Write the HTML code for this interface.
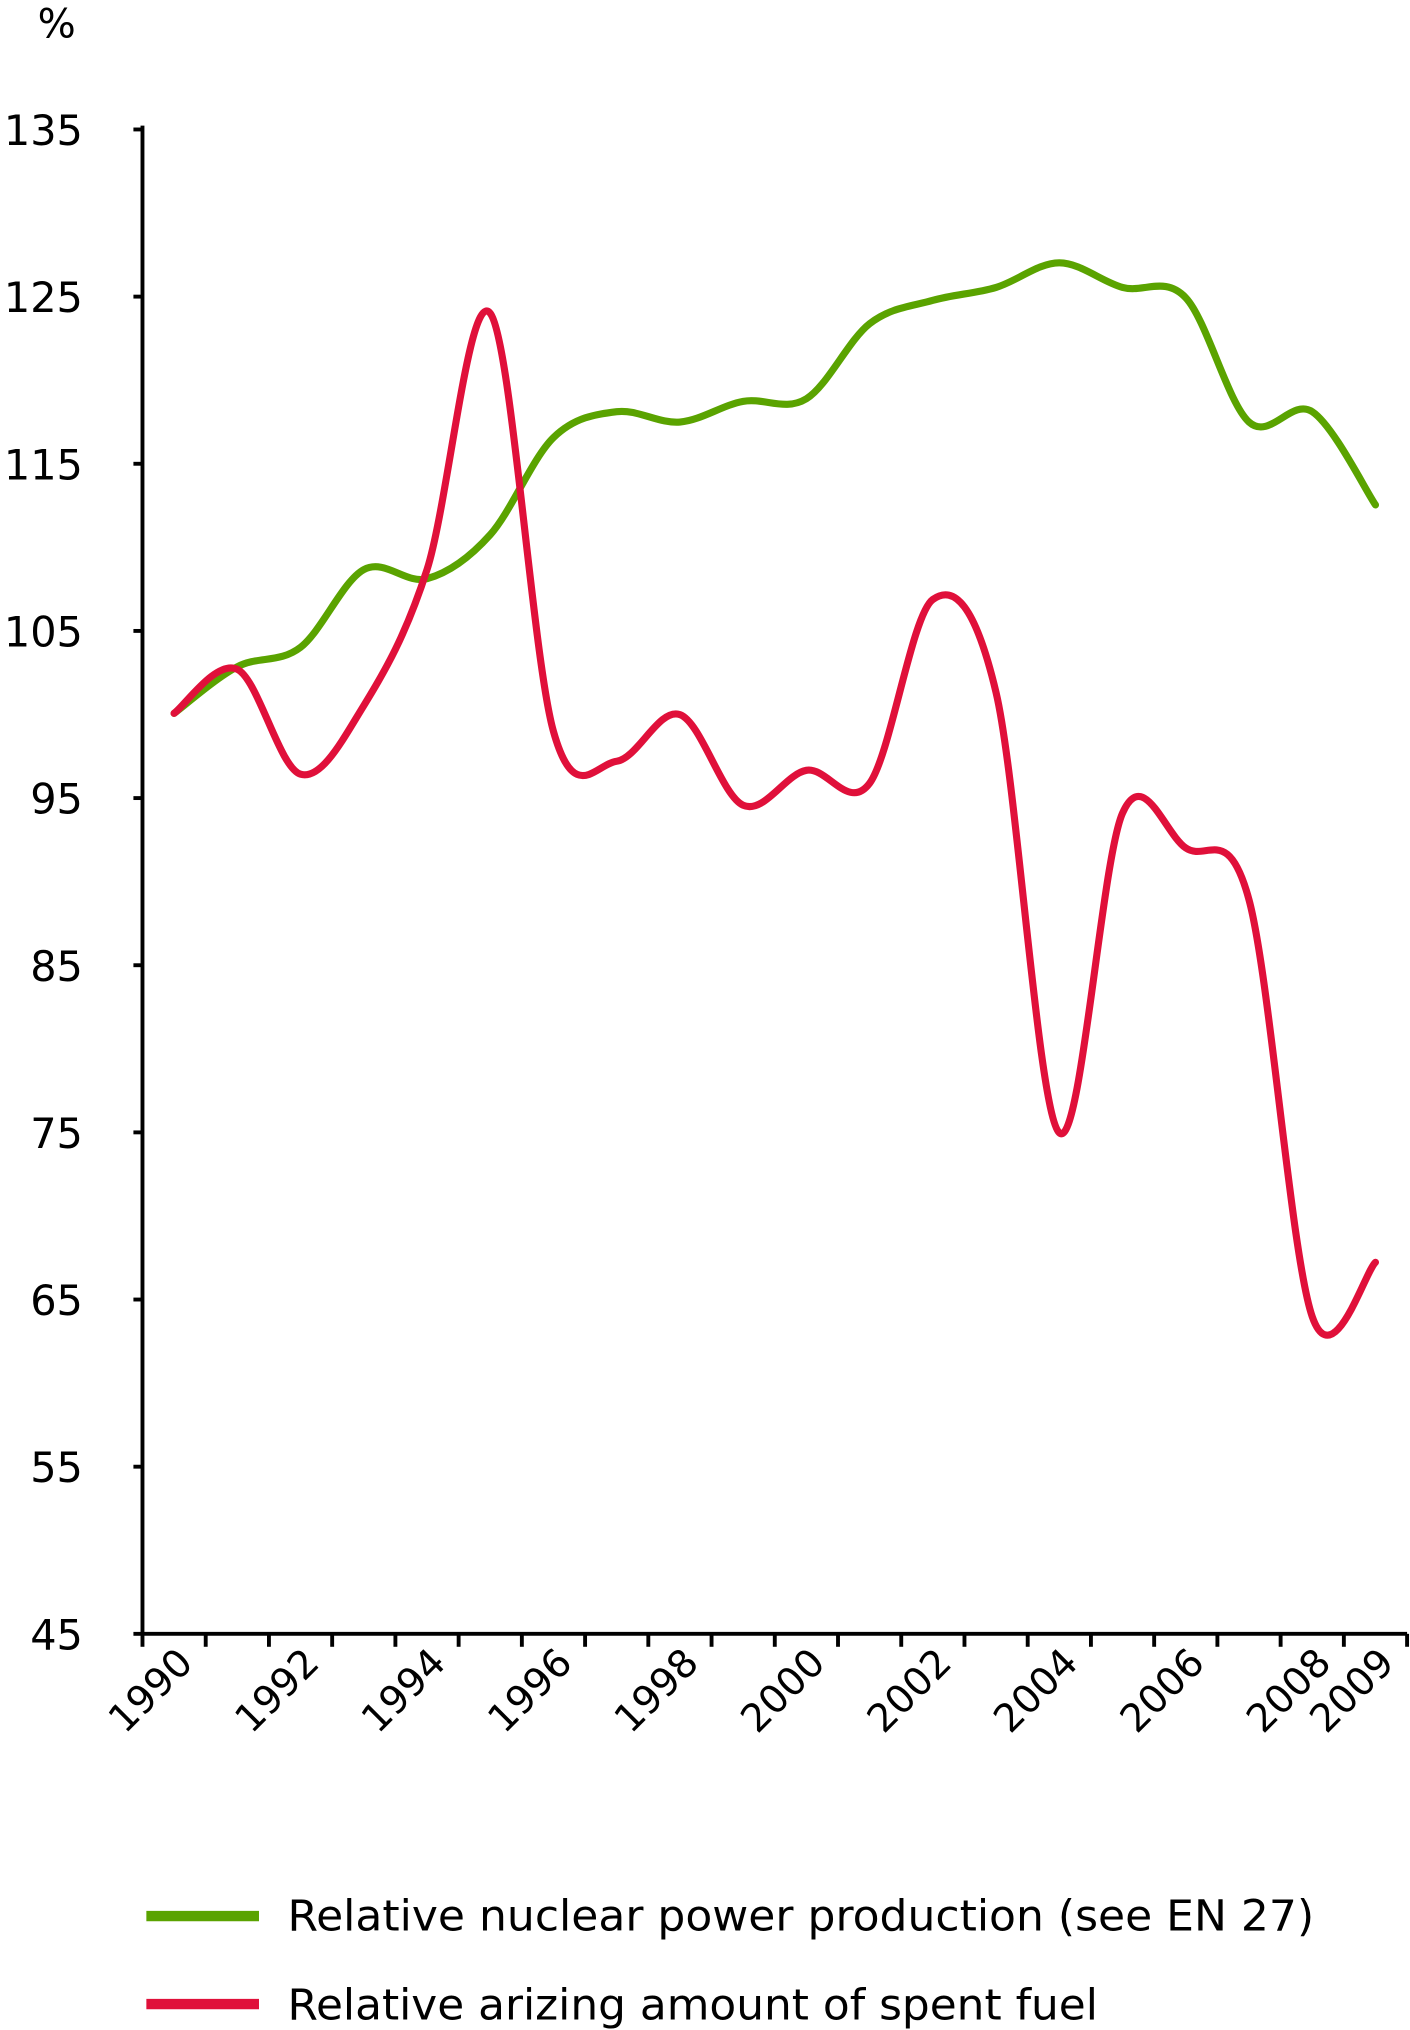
<!DOCTYPE html>
<html><head><meta charset="utf-8"><style>
html,body{margin:0;padding:0;background:#fff;}
svg{display:block;}
text{font-family:"DejaVu Sans","Liberation Sans",sans-serif;fill:#000;}
</style></head><body>
<svg id="s" width="1410" height="2030" viewBox="0 0 1089 1568" xmlns="http://www.w3.org/2000/svg">
<text x="29" y="29" font-size="31">%</text>
<g id="ax" stroke="#000" stroke-width="3" fill="none"></g>
<g id="yl" font-size="32" text-anchor="end"></g>
<g id="xl" font-size="30" text-anchor="end"></g>
<path id="g" fill="none" stroke="#5aa300" stroke-width="5.5" stroke-linejoin="round" stroke-linecap="round"/>
<path id="r" fill="none" stroke="#e0103a" stroke-width="5.5" stroke-linejoin="round" stroke-linecap="round"/>
<line x1="113" y1="1480" x2="200" y2="1480" stroke="#5aa300" stroke-width="8"/>
<text x="222" y="1491" font-size="33" textLength="793" lengthAdjust="spacingAndGlyphs">Relative nuclear power production (see EN 27)</text>
<line x1="113" y1="1548" x2="200" y2="1548" stroke="#e0103a" stroke-width="8"/>
<text x="222" y="1560" font-size="33" textLength="626" lengthAdjust="spacingAndGlyphs">Relative arizing amount of spent fuel</text>
</svg>
<script>
var NS="http://www.w3.org/2000/svg";
function el(p,t,a,txt){var e=document.createElementNS(NS,t);for(var k in a)e.setAttribute(k,a[k]);if(txt)e.textContent=txt;document.getElementById(p).appendChild(e);}
var x0=110,dx=48.84,yb=1262,yt=100;
el("ax","line",{x1:x0,y1:yt-3,x2:x0,y2:yb});
el("ax","line",{x1:x0,y1:yb,x2:x0+20*dx,y2:yb});
for(var i=0;i<=9;i++){var y=yb-(yb-yt)*i/9;el("ax","line",{x1:x0-7,y1:y,x2:x0,y2:y});
el("yl","text",{x:64,y:y+12},String(45+10*i));}
for(var k=0;k<=20;k++){var x=x0+k*dx;el("ax","line",{x1:x,y1:yb,x2:x,y2:yb+10});}
var yrs=[1990,1992,1994,1996,1998,2000,2002,2004,2006,2008,2009];
yrs.forEach(function(yr){var i=yr-1990;var cx=x0+dx*(i+0.5)+16;var cy=yb+24;
el("xl","text",{x:cx,y:cy,transform:"rotate(-45 "+cx+" "+cy+")"},String(yr));});
function path(ys){var p=ys.map(function(y,i){return [x0+dx*(i+0.5),y];});
var d="M"+p[0][0]+","+p[0][1];
for(var i=0;i<p.length-1;i++){var a=p[i-1]||p[i],b=p[i],c=p[i+1],e=p[i+2]||c;
d+=" C"+(b[0]+(c[0]-a[0])/6)+","+(b[1]+(c[1]-a[1])/6)+" "+(c[0]-(e[0]-b[0])/6)+","+(c[1]-(e[1]-b[1])/6)+" "+c[0]+","+c[1];}
return d;}
document.getElementById("g").setAttribute("d",path([551,515,500,440,447,413,338,318,326,310,308,250,232,222,203,222,230,326,318,390]));
document.getElementById("r").setAttribute("d",path([551,517,598,545,440,242,565,588,552,622,595,605,463,535,875,628,655,695,1017,975]));
</script>
</body></html>
